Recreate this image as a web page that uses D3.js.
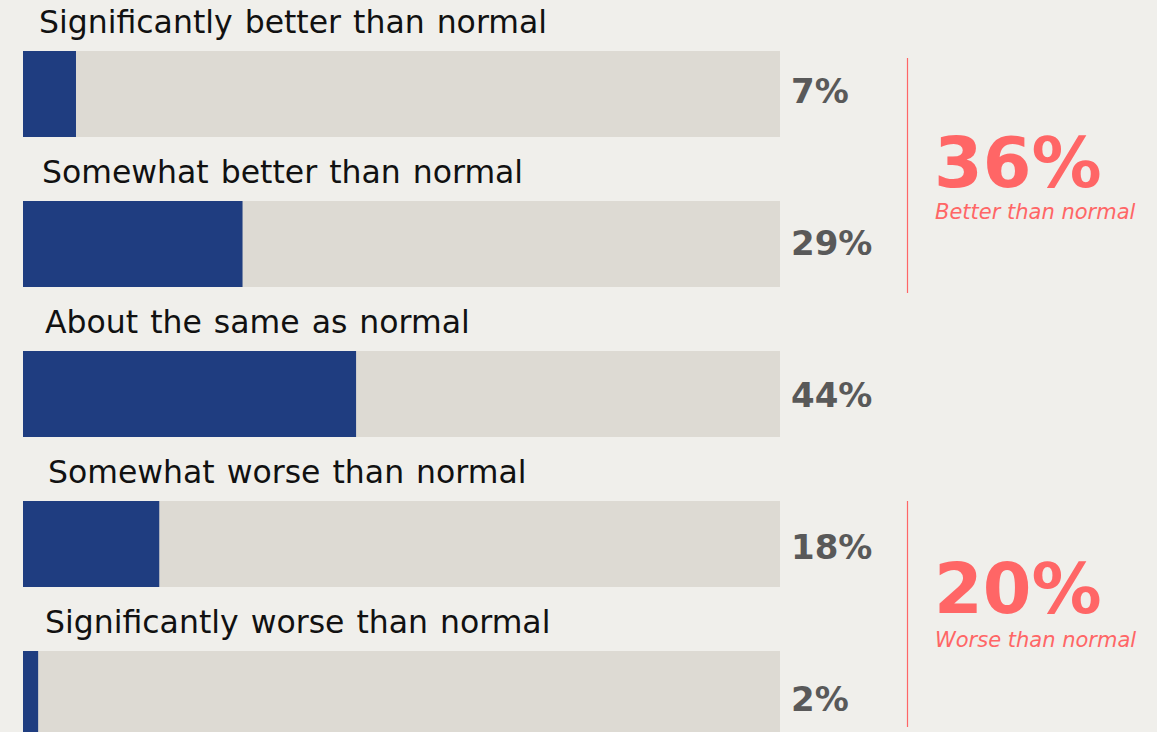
<!DOCTYPE html>
<html>
<head>
<meta charset="utf-8">
<script src="https://cdn.jsdelivr.net/npm/d3@7"></script>
<style>
  html, body { margin: 0; padding: 0; background: #f0efeb; }
  svg { display: block; }
</style>
</head>
<body>
<svg id="chart" width="1157" height="732"></svg>
<script>
// Survey responses: how things compare to normal
const categories = [
  "Significantly better than normal",
  "Somewhat better than normal",
  "About the same as normal",
  "Somewhat worse than normal",
  "Significantly worse than normal"
];
const values = [7, 29, 44, 18, 2];

// Grouped summaries shown on the right
const summaryValues = [36, 20];
const summaryLabels = ["Better than normal", "Worse than normal"];

const W = 1157, H = 732;
const svg = d3.select("#chart");
const font = "'DejaVu Sans', Verdana, sans-serif";

const rowPitch = 150, barTop = 51, barH = 86;
const x = d3.scaleLinear().domain([0, 100]).range([23, 780]);
const y = d3.scaleLinear().domain([0, 1]).range([barTop, barTop + rowPitch]);
// value labels sit on a slightly wider pitch than the bars
const yValue = d3.scaleLinear().domain([0, 1]).range([103, 255]);
const labelIndent = [16, 19, 22, 25, 22];

const rows = svg.selectAll("g.row")
  .data(categories.map((c, i) => ({ c, v: values[i], i })))
  .join("g").attr("class", "row");

// background track
rows.append("rect")
  .attr("x", x(0)).attr("y", d => y(d.i))
  .attr("width", x(100) - x(0)).attr("height", barH)
  .attr("fill", "#dddad3");

// value bar
rows.append("rect")
  .attr("x", x(0)).attr("y", d => y(d.i))
  .attr("width", d => x(d.v) - x(0)).attr("height", barH)
  .attr("fill", "#1f3d80");

// category label
rows.append("text")
  .attr("x", d => x(0) + labelIndent[d.i])
  .attr("y", d => y(d.i) - 18)
  .attr("font-family", font).attr("font-size", 31.5)
  .attr("word-spacing", 2)
  .attr("fill", "#111")
  .text(d => d.c);

// value label
rows.append("text")
  .attr("x", x(100) + 11)
  .attr("y", d => yValue(d.i))
  .attr("font-family", font).attr("font-size", 34).attr("font-weight", "bold")
  .attr("fill", "#595959")
  .text(d => d.v + "%");

// summary brackets
const red = "#ff6666";
const bracketSpans = [[58, 293], [501, 727]];
const summaryBase = [187, 613];
summaryValues.forEach((v, k) => {
  svg.append("line")
    .attr("x1", 907.5).attr("x2", 907.5)
    .attr("y1", bracketSpans[k][0]).attr("y2", bracketSpans[k][1])
    .attr("stroke", red).attr("stroke-width", 1.2);
  svg.append("text")
    .attr("x", 934).attr("y", summaryBase[k])
    .attr("font-family", font).attr("font-size", 70).attr("font-weight", "bold")
    .attr("fill", red)
    .text(v + "%");
  svg.append("text")
    .attr("x", 935).attr("y", summaryBase[k] + (k === 0 ? 32 : 34))
    .attr("font-family", font).attr("font-size", 21).attr("font-style", "italic")
    .attr("fill", red)
    .text(summaryLabels[k]);
});
</script>
</body>
</html>
